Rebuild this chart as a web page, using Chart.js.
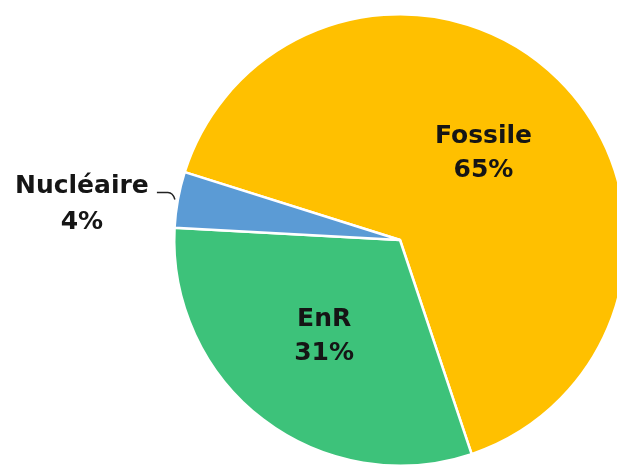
<!DOCTYPE html>
<html>
<head>
<meta charset="utf-8">
<script src="https://cdn.jsdelivr.net/npm/chart.js@4/dist/chart.umd.min.js"></script>
<style>
  html, body { margin: 0; padding: 0; background: #ffffff; overflow: hidden; }
  #wrap { position: absolute; left: 0; top: 0; width: 617px; height: 465px; overflow: hidden; }
  canvas { position: absolute; left: 0; top: 0; }
</style>
</head>
<body>
<div id="wrap"><canvas id="chart" width="800" height="480"></canvas></div>
<script>
// Energy mix shares (%)
const categories = ['Fossile', 'EnR', 'Nucléaire'];
const shares = [65, 31, 4];
const sliceColors = ['#FFC000', '#3DC27A', '#5B9BD5'];
const percentLabels = shares.map(v => v + '%');

const FONT = 'bold 25px "DejaVu Sans", sans-serif';
const TEXT = '#151515';

// Writes category name and percentage on each slice; the small slice gets an outside label with a leader line
const sliceLabels = {
  id: 'sliceLabels',
  afterDatasetsDraw(chart) {
    const ctx = chart.ctx;
    const arcs = chart.getDatasetMeta(0).data;
    ctx.save();
    ctx.font = FONT;
    ctx.fillStyle = TEXT;
    ctx.textAlign = 'center';
    ctx.textBaseline = 'middle';
    arcs.forEach((arc, i) => {
      const p = arc.getProps(['x', 'y', 'startAngle', 'endAngle', 'outerRadius'], true);
      const mid = (p.startAngle + p.endAngle) / 2;
      const cx = Math.cos(mid), cy = Math.sin(mid);
      if (shares[i] >= 10) {
        const r = p.outerRadius * 0.54;
        const x = p.x + cx * r, y = p.y + cy * r;
        ctx.fillText(categories[i], x - 2, y - 17);
        ctx.fillText(percentLabels[i], x - 2, y + 17);
      } else {
        const ex = p.x + cx * (p.outerRadius + 1);
        const ey = p.y + cy * (p.outerRadius + 1);
        // leader line: short curve off the rim, then a horizontal tick
        ctx.strokeStyle = '#222';
        ctx.lineWidth = 1.5;
        ctx.beginPath();
        ctx.moveTo(ex - 2, ey);
        ctx.quadraticCurveTo(ex - 4, ey - 7, ex - 9, ey - 7);
        ctx.lineTo(ex - 20, ey - 7);
        ctx.stroke();
        const tx = ex - 95;
        ctx.fillText(categories[i], tx, ey - 13);
        ctx.fillText(percentLabels[i], tx, ey + 23);
      }
    });
    ctx.restore();
  }
};

new Chart(document.getElementById('chart'), {
  type: 'pie',
  data: {
    labels: categories,
    datasets: [{
      data: shares,
      backgroundColor: sliceColors,
      borderColor: '#ffffff',
      borderWidth: 2.5
    }]
  },
  options: {
    responsive: false,
    animation: false,
    rotation: 287.5,
    layout: { padding: { top: 13, bottom: 13, left: 0, right: 0 } },
    plugins: {
      legend: { display: false },
      tooltip: { enabled: false },
      title: { display: false }
    }
  },
  plugins: [sliceLabels]
});
</script>
</body>
</html>
